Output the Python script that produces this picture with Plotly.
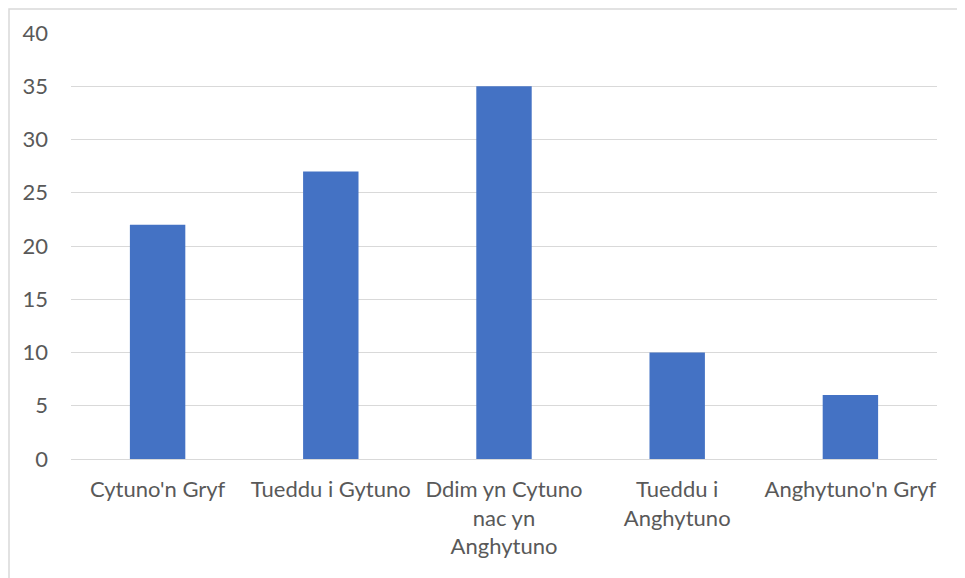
import plotly.graph_objects as go

categories = ["Cytuno'n Gryf", "Tueddu i Gytuno", "Ddim yn Cytuno<br>nac yn<br>Anghytuno",
              "Tueddu i<br>Anghytuno", "Anghytuno'n Gryf"]
values = [22, 27, 35, 10, 6]
y_ticks = [0, 5, 10, 15, 20, 25, 30, 35, 40]

W, H = 965, 578
ml, mr, mt, mb = 63, 36, 25, 127
pw, ph = W - ml - mr, H - mt - mb

fig = go.Figure(go.Bar(x=categories, y=values, marker_color="#4472C4",
                       marker_line_width=0, hoverinfo="skip"))

font = dict(family="Lato, Liberation Sans, sans-serif", size=22, color="#595959")

fig.update_layout(
    width=W, height=H,
    margin=dict(l=ml, r=mr, t=mt, b=mb, pad=0),
    paper_bgcolor="white", plot_bgcolor="white",
    bargap=0.68, showlegend=False, font=font,
    xaxis=dict(showgrid=False, showline=False, ticks="", zeroline=False,
               tickfont=font, ticklabelstandoff=15),
    yaxis=dict(range=[0, 40], tickvals=y_ticks, showgrid=True, gridcolor="#d9d9d9",
               gridwidth=1, zeroline=True, zerolinecolor="#d9d9d9", zerolinewidth=1,
               showline=False, ticks="", tickfont=font, ticklabelstandoff=22),
    shapes=[dict(type="rect", xref="paper", yref="paper",
                 x0=(1 - ml) / pw, x1=1.2, y0=-0.5, y1=1 + (mt - 1) / ph,
                 line=dict(color="#d9d9d9", width=1.5), fillcolor="rgba(0,0,0,0)",
                 layer="below")],
)

fig.write_html("out.html")
